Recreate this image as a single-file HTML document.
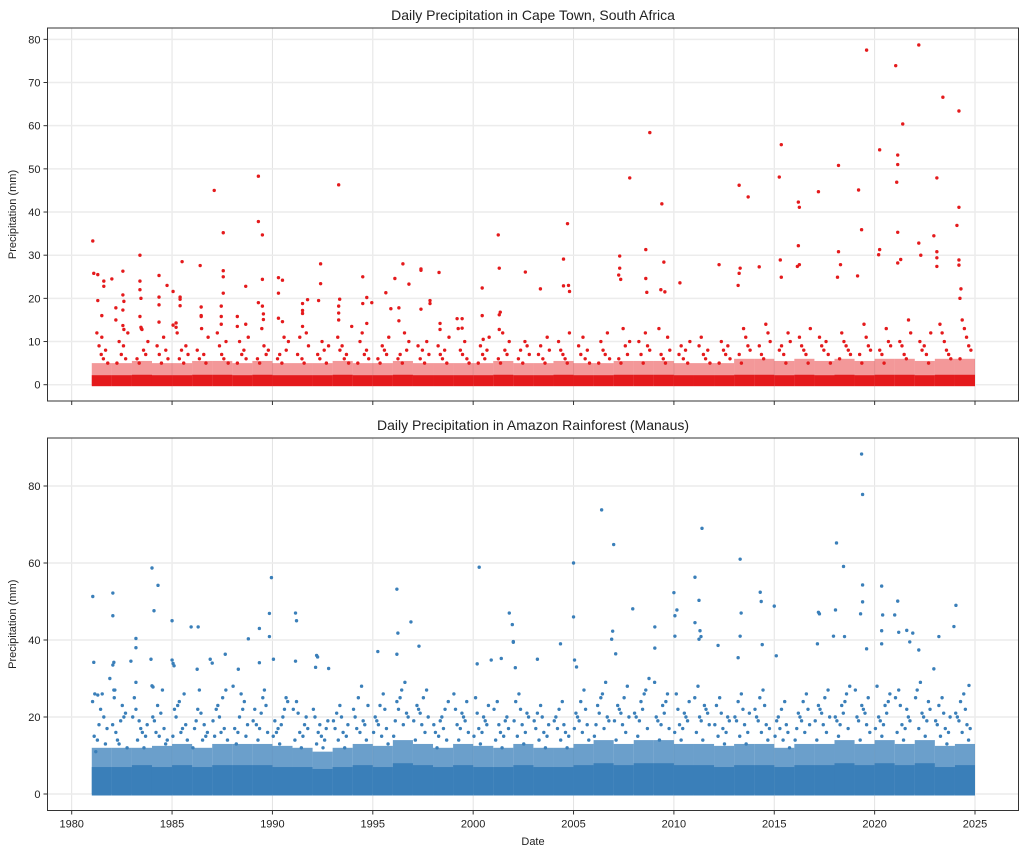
<!DOCTYPE html>
<html><head><meta charset="utf-8">
<style>
body{margin:0;background:#fff;}
svg{display:block;font-family:"Liberation Sans","DejaVu Sans",sans-serif;}
</style></head>
<body>
<svg id="chart" width="1024" height="856" viewBox="0 0 1024 856" xmlns="http://www.w3.org/2000/svg"></svg>
<script>
// ---------- data ----------
const years = [];
for (let y = 1981; y <= 2024; y++) years.push(y);
const xTickLabels = ["1980","1985","1990","1995","2000","2005","2010","2015","2020","2025"];
const xTickValues = [1980,1985,1990,1995,2000,2005,2010,2015,2020,2025];
const ctYTicks = [0,10,20,30,40,50,60,70,80];
const amYTicks = [0,20,40,60,80];

// Cape Town dense band (mm) per year
const ctSolid = [2.2,2.2,2.3,2.2,2.2,2.3,2.3,2.2,2.3,2.2,2.2,2.2,2.3,2.2,2.2,2.3,2.2,2.2,2.2,2.2,2.3,2.2,2.2,2.3,2.2,2.2,2.3,2.3,2.3,2.2,2.2,2.2,2.3,2.3,2.2,2.3,2.2,2.3,2.2,2.3,2.3,2.2,2.3,2.3];
const ctLight = [5,5,5.5,5,5,5.5,5.5,5,5.5,5,5,5,5.5,5,5,5.5,5,5,5,5,5.5,5,5,5.5,5,5,5.5,5.5,5.5,5,5,5,6,6,5.5,6,5.5,6,5.5,6,6,5.5,6,6];
const ctMid = [
[12,9,7,6,8,5],[10,7,9,6,12,5],[13,8,7,10,6,5],[11,8,6,9,7,5],[9,7,12,6,8,5],
[11,8,6,13,7,5],[12,9,7,6,10,5],[10,7,8,6,11,5],[13,9,7,8,6,5],[11,8,10,6,7,5],
[12,9,7,11,6,5],[9,7,6,10,8,5],[11,8,9,6,7,5],[10,12,7,8,6,5],[9,8,7,11,6,5],
[12,8,10,6,7,5],[10,7,9,6,8,5],[11,9,7,6,8,5],[13,8,7,10,6,5],[9,7,6,8,11,5],
[12,8,7,10,6,5],[10,9,7,6,8,5],[11,8,7,9,6,5],[12,10,8,7,6,5],[9,7,11,6,8,5],
[10,8,7,12,6,5],[13,9,7,10,6,5],[12,9,8,10,7,5],[11,8,13,7,6,5],[10,7,9,6,8,5],
[9,11,7,6,8,5],[10,8,7,9,6,5],[13,11,9,8,7,5],[14,12,10,9,7,6],[12,10,8,9,7,5],
[13,11,9,8,7,5],[11,9,8,10,7,5],[12,10,9,8,7,6],[14,11,9,8,7,5],[13,10,9,8,7,5],
[15,12,10,9,7,6],[12,10,8,9,7,5],[14,12,10,8,7,6],[15,13,11,9,8,6]];
const ctDates = [1981.05,1981.1,1981.3,1981.3,1981.5,1981.5,1981.6,1981.6,1982.0,1982.2,1982.2,1982.55,1982.55,1982.55,1982.55,1982.6,1982.6,1983.4,1983.4,1983.4,1983.4,1983.45,1983.45,1983.5,1984.35,1984.35,1984.35,1984.35,1984.75,1985.05,1985.05,1985.2,1985.2,1985.4,1985.4,1985.4,1985.5,1986.4,1986.45,1986.45,1986.45,1987.1,1987.45,1987.45,1987.45,1987.55,1987.55,1987.55,1987.55,1988.25,1988.25,1988.67,1988.67,1989.3,1989.3,1989.3,1989.5,1989.5,1989.5,1989.55,1989.55,1990.3,1990.3,1990.3,1990.5,1990.5,1991.5,1991.5,1991.5,1991.5,1991.75,1992.3,1992.4,1992.4,1993.3,1993.3,1993.3,1993.3,1993.35,1993.95,1994.5,1994.5,1994.7,1994.7,1994.95,1995.65,1995.9,1996.1,1996.3,1996.3,1996.5,1996.8,1997.4,1997.4,1997.4,1997.85,1997.85,1998.3,1998.35,1998.35,1999.2,1999.45,1999.45,2000.45,2000.45,2000.5,2001.25,2001.3,2001.35,2001.3,2001.3,2002.6,2003.35,2004.5,2004.7,2004.5,2004.75,2004.8,2007.3,2007.3,2007.35,2007.25,2007.8,2008.6,2008.6,2008.65,2008.8,2009.4,2009.5,2009.35,2009.55,2010.3,2012.25,2013.25,2013.7,2013.25,2013.3,2013.2,2014.25,2015.35,2015.25,2015.3,2015.35,2016.2,2016.25,2016.2,2016.15,2016.25,2017.2,2018.2,2018.2,2018.3,2018.15,2019.2,2019.35,2019.15,2019.6,2020.25,2020.2,2020.25,2021.05,2021.1,2021.15,2021.15,2021.4,2021.15,2021.15,2021.3,2022.2,2022.2,2022.3,2023.1,2023.4,2022.95,2023.1,2023.1,2023.1,2024.2,2024.2,2024.1,2024.2,2024.2,2024.3,2024.25];
const ctValues = [33.3,25.8,25.5,19.5,16,11,24,22.8,24.5,17.8,15,26.3,20.8,17.3,13.7,19.3,12.8,30,24,22,15.8,20,13.3,12.8,25.3,20.3,18.5,14.5,23,21.6,13.8,14.3,13.3,20.3,19.8,18.3,28.5,27.6,18,16,15.8,45,18.2,15.8,14,35.2,26.4,25,21.2,15.8,13.5,22.8,14,48.3,37.8,19,34.7,24.4,18.2,16.4,15.1,24.8,21.2,15.4,24.2,14.6,18.8,17.2,16.5,13.5,19.7,19.5,28,23.4,46.3,18.2,16.6,15,19.8,13.5,25,18.8,20.2,14.2,19,21.3,17.6,24.6,17.8,14.8,28,23.3,26.8,26.5,17.5,19.5,18.8,26,14.2,12.8,15.3,15.3,13.1,16,22.4,10.5,34.7,27,16.8,16.2,12.8,26.1,22.2,29.1,37.3,22.9,23,21.6,29.8,27,24.4,25.4,47.9,31.3,24.6,21.4,58.4,41.9,28.4,22,21.5,23.6,27.8,46.2,43.5,25.8,27,23,27.3,55.6,48.1,28.9,24.9,42.3,41.1,32.2,27.4,27.8,44.7,50.8,30.8,27.8,24.9,45.1,35.9,25.2,77.5,54.4,30.1,31.3,73.9,46.9,51,53.2,60.4,35.3,28.2,29,78.7,32.8,30,47.9,66.6,34.5,30.8,29.4,27.4,63.4,41.1,36.9,28.9,27.7,22.2,20];

// Amazon (Manaus)
const amSolid = [7,7,7.5,7,7.5,7,7.5,7.5,7.5,7,7,6.5,7,7.5,7,8,7.5,7,7.5,7,7,7.5,7,7,7.5,8,7.5,8,8,7.5,7.5,7,7.5,7.5,7,7.5,7.5,8,7.5,8,7.5,8,7,7.5];
const amLight = [12,12,12,12.5,13,12,13,13,13,12.5,12,11,12,13,12.5,14,13,12,13,12.5,12,13,12,12,13,14,13,14,14,13,13,12.5,13,13,12,13,13,14,13,14,13,14,12.5,13];
const amMid = [
[24,20,18,15,13,22,11,17,26,14],[25,21,19,16,12,23,14,18,20,13],[22,18,16,14,20,12,19,25,15,17],[23,20,17,15,19,13,21,16,14,27],
[24,22,18,16,20,14,17,23,15,26],[21,19,16,14,22,12,18,27,17,15],[25,23,19,17,20,15,27,16,22,14],[24,20,17,15,26,13,18,22,16,28],
[23,21,18,16,25,14,19,27,17,22],[24,20,17,15,22,13,19,25,18,16],[22,18,16,14,20,12,24,17,15,21],[20,17,15,13,19,12,16,22,14,18],
[21,18,16,14,19,12,23,17,15,20],[25,22,18,16,20,14,28,17,23,19],[23,20,17,15,19,13,26,18,16,22],[27,24,20,18,22,15,29,25,19,21],
[25,22,19,16,21,14,27,18,23,20],[22,19,16,14,20,12,24,17,15,18],[24,21,18,16,20,14,26,19,17,22],[23,20,17,15,19,13,25,18,16,21],
[22,19,16,14,20,12,24,17,15,18],[24,21,18,15,20,13,26,19,16,22],[21,18,16,14,19,12,23,17,15,20],[22,19,16,14,20,12,24,17,15,18],
[24,21,18,16,20,14,27,19,17,22],[26,23,19,17,21,15,29,25,18,20],[25,22,19,16,21,14,28,18,23,20],[27,24,20,17,22,15,30,26,19,21],
[26,23,19,17,21,14,29,24,18,20],[24,21,18,16,20,14,26,19,17,22],[25,22,19,16,21,14,28,18,23,20],[23,20,17,15,19,13,25,18,16,21],
[24,21,18,15,20,13,26,19,16,22],[25,22,18,16,20,14,27,19,17,23],[22,19,16,14,20,12,24,17,15,18],[24,21,18,16,20,14,26,19,17,22],
[25,22,19,16,21,14,27,18,23,20],[26,23,19,17,21,15,28,24,18,20],[25,22,19,16,21,14,27,18,23,20],[26,23,19,17,21,15,28,24,18,20],
[25,22,18,16,20,14,27,19,17,23],[27,24,20,17,22,15,29,25,19,21],[23,20,17,15,19,13,25,18,16,21],[24,21,18,16,20,14,26,19,17,22]];
const amDates = [1981.05,1981.1,1981.15,1981.3,1981.9,1982.05,1982.05,1982.05,1982.1,1982.1,1982.15,1982.95,1983.2,1983.2,1983.2,1983.95,1984.0,1984.3,1984.1,1984.0,1984.05,1985.0,1985.0,1985.05,1985.1,1985.95,1986.3,1986.25,1986.9,1987.0,1987.65,1988.8,1988.3,1989.35,1989.35,1989.85,1989.85,1989.95,1990.05,1991.15,1991.2,1991.15,1992.2,1992.25,1992.15,1992.8,1995.25,1996.2,1996.25,1996.2,1996.9,1997.3,2000.3,2000.2,2000.9,2001.4,2001.8,2001.95,2002.0,2002.1,2002.0,2003.2,2004.35,2005.0,2005.0,2005.05,2005.15,2006.4,2007.0,2006.95,2006.9,2007.1,2007.95,2009.05,2009.05,2010.0,2010.05,2010.15,2010.05,2011.05,2011.25,2011.4,2011.05,2011.3,2011.35,2011.25,2012.2,2013.3,2013.35,2013.3,2013.2,2014.3,2014.35,2014.4,2015.0,2015.1,2017.2,2017.25,2017.15,2018.1,2018.05,2017.95,2018.45,2018.5,2019.35,2019.4,2019.4,2019.4,2019.3,2019.6,2020.35,2020.4,2020.35,2020.35,2021.0,2021.15,2021.2,2021.6,2021.9,2021.75,2022.2,2022.95,2023.2,2023.95,2024.05,2024.7];
const amValues = [51.3,34.2,26,25.7,30,52.2,46.3,33.5,34.2,27,27,34.5,40.4,38,29,35,58.7,54.2,47.6,28.1,27.8,45,34.8,33.9,33.3,43.4,43.4,32.4,35,34,36.3,40.3,32.4,43,34.1,46.9,40.9,56.2,35,47,45,34.5,36,35.6,32.9,32.6,37,53.2,41.8,36.3,44.7,38.4,58.9,33.8,34.8,35.2,47,44,39.4,32.8,39.6,35,39,46,60,34.8,33,73.8,64.8,42.3,40.2,36.4,48.1,43.4,37.9,52.3,46.3,47.8,41,56.3,50.3,69,44.5,42.4,40.9,40.2,38.6,61,47,41,35.4,52.4,50,38.8,48.8,35.9,47.2,46.8,39,65.2,47.8,41,59.1,40.9,88.3,77.8,54.3,49.9,46.8,37.7,54,46.5,42.4,39,46.5,50.1,42,42.5,41.8,39.5,37.4,32.5,40.9,43.5,49,28.2];

// ---------- drawing ----------
const svg = document.getElementById('chart');
const NS = 'http://www.w3.org/2000/svg';
function mk(tag, attrs, parent){ const e=document.createElementNS(NS,tag); for(const k in attrs) e.setAttribute(k,attrs[k]); (parent||svg).appendChild(e); return e; }

const xLeft = 47.5, xRight = 1018.5;
function xScale(yr){ return 71.7 + (yr - 1980) * (975 - 71.7) / 45; }

function panel(cfg){
  const yScale = v => cfg.y0 - v * cfg.k;
  const g = mk('g', {});
  
  
  xTickValues.forEach(v => {
    const l = mk('line',{x1:xScale(v),x2:xScale(v),y1:cfg.top,y2:cfg.bottom,stroke:'#e3e3e3','stroke-width':1},g);
    
    
  });
  cfg.yTicks.forEach(v => {
    const l = mk('line',{x1:xLeft,x2:xRight,y1:yScale(v),y2:yScale(v),stroke:'#ececec','stroke-width':1.5},g);
    
    
  });
  years.forEach((yr,i) => {
    const r1 = mk('rect',{x:xScale(yr),y:yScale(cfg.light[i]),width:xScale(yr+1)-xScale(yr),height:yScale(0)-yScale(cfg.light[i]),fill:cfg.color,opacity:cfg.lightOp},g);
    
    
    const r2 = mk('rect',{x:xScale(yr),y:yScale(cfg.solid[i]),width:xScale(yr+1)-xScale(yr),height:yScale(0)-yScale(cfg.solid[i])+1.5,fill:cfg.color},g);
    
    
  });
  years.forEach((yr,i) => {
    const vals = cfg.mid[i];
    const n = vals.length;
    vals.forEach((v,j) => {
      const slot = (j * 7 + i) % n;
      const d = yr + cfg.f0 + (slot + 0.5) / n * cfg.fw;
      const c = mk('circle',{cx:xScale(d),cy:yScale(v),r:1.7,fill:cfg.color},g);
      
      
    });
  });
  cfg.dates.forEach((d,i) => {
    const c = mk('circle',{cx:xScale(d),cy:yScale(cfg.values[i]),r:1.7,fill:cfg.color},g);
    
    
  });
  const f = mk('rect',{x:xLeft,y:cfg.top,width:xRight-xLeft,height:cfg.bottom-cfg.top,fill:'none',stroke:'#333','stroke-width':1},g);
  
  
  cfg.yTicks.forEach(v => {
    mk('line',{x1:xLeft-4,x2:xLeft,y1:yScale(v),y2:yScale(v),stroke:'#333'},g);
    const t = mk('text',{x:xLeft-7,y:yScale(v)+4,'font-size':11,'text-anchor':'end',fill:'#222'},g);
    t.textContent = String(v);
    
    
  });
  xTickValues.forEach((v,i) => {
    mk('line',{x1:xScale(v),x2:xScale(v),y1:cfg.bottom,y2:cfg.bottom+4,stroke:'#333'},g);
    if (cfg.showX){
      const t = mk('text',{x:xScale(v),y:cfg.bottom+17,'font-size':11,'text-anchor':'middle',fill:'#222'},g);
      t.textContent = xTickLabels[i];
      
      
    }
  });
  const title = mk('text',{x:533,y:cfg.top-8,'font-size':14,'text-anchor':'middle',fill:'#222'},g);
  title.textContent = cfg.title;
  
  
  const cy = (cfg.top+cfg.bottom)/2;
  const yl = mk('text',{x:16,y:cy,'font-size':11,'text-anchor':'middle',fill:'#222',transform:`rotate(-90 16 ${cy})`},g);
  yl.textContent = 'Precipitation (mm)';
  
  
}

panel({name:'cape-town-panel',title:'Daily Precipitation in Cape Town, South Africa',top:28,bottom:401,y0:384.7,k:4.317,
  yTicks:ctYTicks,color:'#e41a1c',lightOp:0.45,solid:ctSolid,light:ctLight,mid:ctMid,f0:0.2,fw:0.65,dates:ctDates,values:ctValues,showX:false});
panel({name:'amazon-panel',title:'Daily Precipitation in Amazon Rainforest (Manaus)',top:438,bottom:810.5,y0:794,k:3.85,
  yTicks:amYTicks,color:'#3a7fb9',lightOp:0.75,solid:amSolid,light:amLight,mid:amMid,f0:0.0,fw:0.8,dates:amDates,values:amValues,showX:true});

const xl = mk('text',{x:533,y:845,'font-size':11,'text-anchor':'middle',fill:'#222'});
xl.textContent = 'Date';


</script>
</body></html>
